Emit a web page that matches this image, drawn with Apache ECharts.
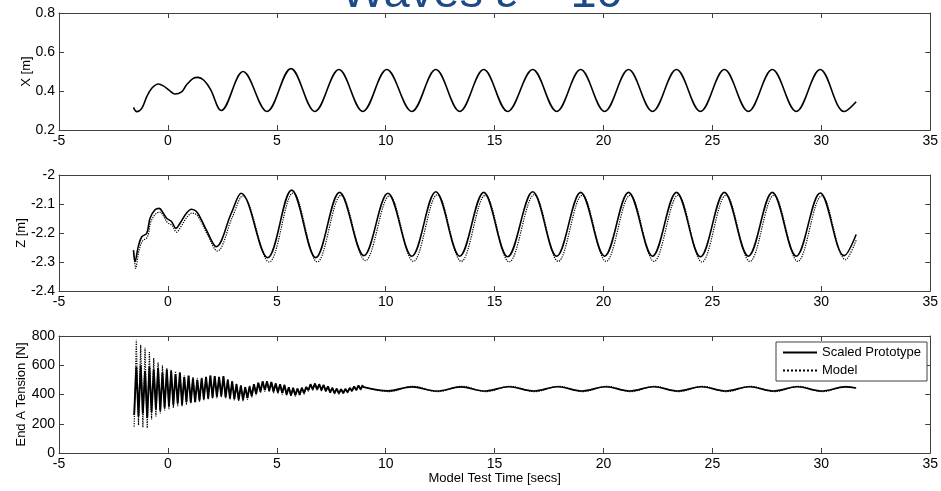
<!DOCTYPE html>
<html>
<head>
<meta charset="utf-8">
<script src="https://cdn.jsdelivr.net/npm/echarts@6/dist/echarts.min.js"></script>
<style>
  html, body { margin: 0; padding: 0; background: #fff; }
  #chart { width: 941px; height: 491px; }
</style>
</head>
<body>
<div id="chart"></div>
<script>
const xTicks = { min: -5, max: 35, interval: 5 }

// X [m] - scaled prototype (the model trace sits right under it)
const xProto = [
  [-1.58, 0.316], [-1.43, 0.294], [-1.2, 0.311], [-0.97, 0.371], [-0.74, 0.414], [-0.44, 0.436],
  [-0.21, 0.426], [0.09, 0.401], [0.32, 0.385], [0.63, 0.396], [0.85, 0.431], [1.16, 0.465],
  [1.38, 0.47], [1.65, 0.455], [1.95, 0.41], [2.45, 0.30],
  [3.45, 0.50], [4.55, 0.295], [5.65, 0.515], [6.75, 0.295], [7.85, 0.51], [8.95, 0.295],
  [10.05, 0.51], [11.2, 0.295], [12.3, 0.51], [13.4, 0.295], [14.5, 0.51], [15.6, 0.295],
  [16.75, 0.51], [17.85, 0.295], [18.95, 0.51], [20.05, 0.295], [21.15, 0.51], [22.25, 0.295],
  [23.35, 0.51], [24.45, 0.295], [25.55, 0.51], [26.65, 0.295], [27.75, 0.51], [28.85, 0.295],
  [29.95, 0.51], [31.05, 0.295], [31.6, 0.345]
]

// Z [m]
const zProto = [
  [-1.58, -2.259], [-1.51, -2.299], [-1.36, -2.247], [-1.2, -2.213], [-0.97, -2.201], [-0.82, -2.149],
  [-0.59, -2.12], [-0.4, -2.115], [-0.21, -2.132], [-0.06, -2.149], [0.17, -2.161], [0.37, -2.184],
  [0.55, -2.167], [0.85, -2.132], [1.08, -2.118], [1.31, -2.126], [1.54, -2.155], [1.77, -2.19],
  [2.22, -2.247], [2.91, -2.132],
  [3.36, -2.063], [4.58, -2.285], [5.68, -2.052], [6.79, -2.285], [7.88, -2.06], [9.0, -2.278],
  [10.1, -2.063], [11.2, -2.28], [12.3, -2.058], [13.4, -2.28], [14.5, -2.06], [15.6, -2.282],
  [16.75, -2.058], [17.85, -2.28], [18.95, -2.06], [20.05, -2.28], [21.15, -2.06], [22.25, -2.28],
  [23.35, -2.06], [24.45, -2.282], [25.55, -2.06], [26.65, -2.28], [27.75, -2.06], [28.85, -2.28],
  [29.95, -2.062], [31.05, -2.278], [31.6, -2.205]
]
const zModel = [
  [-1.55, -2.27], [-1.48, -2.322], [-1.33, -2.262], [-1.17, -2.228], [-0.94, -2.214], [-0.79, -2.163],
  [-0.56, -2.134], [-0.37, -2.128], [-0.18, -2.145], [-0.03, -2.163], [0.2, -2.175], [0.4, -2.197],
  [0.58, -2.18], [0.88, -2.145], [1.11, -2.131], [1.34, -2.139], [1.57, -2.168], [1.8, -2.204],
  [2.27, -2.262], [2.96, -2.145],
  [3.43, -2.072], [4.65, -2.3], [5.75, -2.062], [6.86, -2.3], [7.95, -2.07], [9.07, -2.295],
  [10.17, -2.072], [11.27, -2.298], [12.37, -2.068], [13.47, -2.298], [14.57, -2.07], [15.67, -2.3],
  [16.82, -2.068], [17.92, -2.298], [19.02, -2.07], [20.12, -2.298], [21.22, -2.07], [22.32, -2.298],
  [23.42, -2.07], [24.52, -2.3], [25.62, -2.07], [26.72, -2.298], [27.82, -2.07], [28.92, -2.298],
  [30.02, -2.072], [31.12, -2.292], [31.6, -2.225]
]

// End A tension [N]: noisy start sampled every 0.1 s from -1.55 s, then the slow wave
const tensionStart = -1.55
const tensionStep = 0.1
const tensionProtoNoisy = [
  260, 590, 250, 600, 270, 560, 240, 590, 280, 570,
  300, 580, 290, 550, 310, 570, 320, 560, 330, 540,
  340, 550, 330, 520, 350, 530, 345, 510, 350, 500,
  360, 510, 370, 520, 375, 530, 380, 525, 385, 520,
  390, 525, 380, 500, 375, 490, 370, 470, 365, 460,
  365, 450, 375, 455, 390, 470, 405, 480, 420, 490,
  430, 490, 425, 485, 420, 475, 415, 470, 410, 465,
  400, 450, 395, 445, 395, 440, 400, 445, 410, 450,
  430, 470, 435, 475, 435, 470, 430, 465, 425, 455,
  415, 445, 410, 440, 408, 436, 410, 438, 415, 445,
  425, 455, 430, 462, 435, 465
]
const tensionModelNoisy = [
  180, 775, 190, 740, 175, 720, 170, 690, 230, 650,
  250, 620, 270, 600, 290, 580, 300, 570, 310, 560,
  320, 550, 320, 530, 330, 530, 340, 520, 345, 510,
  350, 515, 360, 520, 365, 530, 370, 525, 375, 520,
  380, 520, 375, 505, 365, 490, 360, 475, 355, 465,
  355, 455, 365, 460, 380, 470, 395, 480, 410, 490,
  420, 492, 418, 485, 410, 478, 405, 470, 400, 465,
  392, 452, 388, 448, 388, 442, 392, 446, 402, 452,
  422, 472, 428, 476, 428, 472, 424, 466, 418, 458,
  408, 446, 404, 442, 402, 438, 404, 440, 410, 446,
  420, 456, 426, 462, 430, 466
]
const tensionProtoWave = [
  [8.95, 452], [10.1, 425], [11.2, 452], [12.35, 424], [13.45, 452], [14.55, 424], [15.65, 453],
  [16.8, 424], [17.9, 453], [19.0, 424], [20.1, 453], [21.2, 424], [22.3, 453], [23.4, 424],
  [24.5, 453], [25.6, 424], [26.7, 453], [27.8, 424], [28.9, 453], [30.0, 424], [31.1, 452],
  [31.6, 444]
]
const tensionModelWave = [
  [8.95, 452], [10.15, 420], [11.25, 456], [12.4, 420], [13.5, 456], [14.6, 420], [15.7, 456],
  [16.85, 420], [17.95, 456], [19.05, 420], [20.15, 456], [21.25, 420], [22.35, 456], [23.45, 420],
  [24.55, 456], [25.65, 420], [26.75, 456], [27.85, 420], [28.95, 456], [30.05, 420], [31.15, 455],
  [31.6, 442]
]

const noisyPairs = vals => vals.map((v, i) => [+(tensionStart + i * tensionStep).toFixed(2), v])

const font = 'Liberation Sans, Arial, sans-serif'
const frame = '#404040'
const grids = [
  { left: 59, right: 8, top: 13, height: 117 },
  { left: 59, right: 8, top: 175, height: 116 },
  { left: 59, right: 8, top: 336, height: 117 }
]
const yRanges = [
  { min: 0.2, max: 0.8, interval: 0.2, name: 'X [m]', gap: 26, fmt: v => v.toFixed(1) },
  { min: -2.4, max: -2, interval: 0.1, name: 'Z [m]', gap: 31, fmt: v => String(+v.toFixed(1)) },
  { min: 0, max: 800, interval: 200, name: 'End A Tension [N]', gap: 31, fmt: v => String(v) }
]

const axisLine = { show: true, onZero: false, lineStyle: { color: frame } }
const axisTick = { show: true, inside: true, length: 5, lineStyle: { color: frame } }
const xAxis = []
const yAxis = []
grids.forEach((g, i) => {
  xAxis.push({
    type: 'value', gridIndex: i, ...xTicks, position: 'bottom',
    name: i === 2 ? 'Model Test Time [secs]' : '', nameLocation: 'middle', nameGap: 19,
    nameMoveOverlap: false,
    nameTextStyle: { fontFamily: font, fontSize: 13, color: '#000' },
    axisLine, axisTick,
    axisLabel: { fontFamily: font, fontSize: 14, color: '#000', margin: 4 },
    splitLine: { show: false }
  })
  xAxis.push({
    type: 'value', gridIndex: i, ...xTicks, position: 'top',
    axisLine, axisTick, axisLabel: { show: false }, splitLine: { show: false }
  })
  const r = yRanges[i]
  yAxis.push({
    type: 'value', gridIndex: i, min: r.min, max: r.max, interval: r.interval, position: 'left',
    name: r.name, nameLocation: 'middle', nameGap: r.gap, nameRotate: 90, nameMoveOverlap: false,
    nameTextStyle: { fontFamily: font, fontSize: 13, color: '#000' },
    axisLine, axisTick,
    axisLabel: { fontFamily: font, fontSize: 14, color: '#000', margin: 4, formatter: r.fmt },
    splitLine: { show: false }
  })
  yAxis.push({
    type: 'value', gridIndex: i, min: r.min, max: r.max, interval: r.interval, position: 'right',
    axisLine, axisTick, axisLabel: { show: false }, splitLine: { show: false }
  })
})

const solid = { color: '#000', width: 1.6, type: 'solid' }
const solidHeavy = { color: '#000', width: 1.9, type: 'solid' }
const dotted = { color: '#000', width: 1.2, type: 'dotted' }
function line(name, data, panel, style, smooth) {
  return {
    name, type: 'line', data, xAxisIndex: panel * 2, yAxisIndex: panel * 2,
    showSymbol: false, symbol: 'none', smooth, lineStyle: style, itemStyle: { color: '#000' },
    silent: true, animation: false
  }
}

const chart = echarts.init(document.getElementById('chart'))
chart.setOption({
  backgroundColor: '#fff',
  animation: false,
  title: {
    text: 'Waves \u03b5 = 10', left: 336, top: -34,
    textStyle: { fontFamily: font, fontSize: 47, fontWeight: 'normal', color: '#1d4b87' }
  },
  legend: {
    data: ['Scaled Prototype', 'Model'], orient: 'vertical',
    left: 776, top: 342, padding: [4, 6, 4, 6], itemGap: 5, itemWidth: 34, itemHeight: 2,
    itemStyle: { color: 'rgba(0,0,0,0)', borderWidth: 0 },
    borderColor: frame, borderWidth: 1, borderRadius: 0, backgroundColor: '#fff',
    textStyle: { fontFamily: font, fontSize: 13, color: '#000' }
  },
  grid: grids,
  xAxis,
  yAxis,
  series: [
    line('Scaled Prototype', xProto, 0, solid, 0.36),
    line('Model', zModel, 1, dotted, 0.36),
    line('Scaled Prototype', zProto, 1, solid, 0.36),
    line('Model', noisyPairs(tensionModelNoisy), 2, dotted, false),
    line('Model', tensionModelWave, 2, dotted, 0.36),
    line('Scaled Prototype', noisyPairs(tensionProtoNoisy), 2, solidHeavy, false),
    line('Scaled Prototype', tensionProtoWave, 2, solid, 0.36)
  ]
})
</script>
</body>
</html>
